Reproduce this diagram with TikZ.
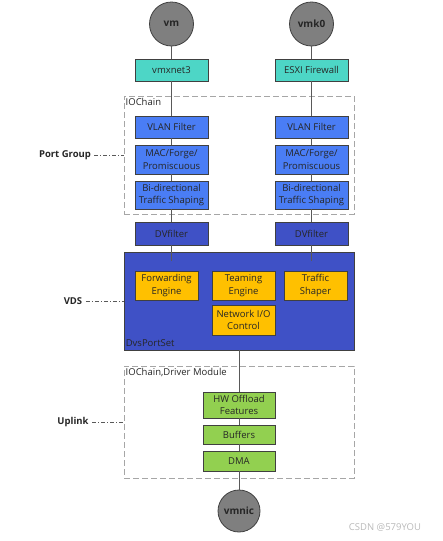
\documentclass[tikz,border=0pt]{standalone}
\usepackage{fontspec}
\setmainfont{Open Sans}
\definecolor{circfill}{HTML}{7F7F7F}
\definecolor{teal}{HTML}{4DD6C6}
\definecolor{lblue}{HTML}{4A7DF5}
\definecolor{dblue}{HTML}{3F51C6}
\definecolor{orng}{HTML}{FFC000}
\definecolor{grn}{HTML}{92D050}
\definecolor{boxline}{HTML}{404040}
\definecolor{txt}{HTML}{262626}
\definecolor{conn}{HTML}{595959}
\begin{document}
\begin{tikzpicture}[x=1pt, y=-1pt, font=\fontsize{9.5}{12.5}\selectfont,
  box/.style={draw=boxline, line width=0.8pt, text=txt, align=center, inner sep=1pt, minimum width=73pt},
  circ/.style={circle, draw=boxline, line width=0.8pt, fill=circfill, text=txt, minimum size=44pt, font=\fontsize{10}{12}\selectfont\bfseries},
  group/.style={draw=gray!70, dashed, dash pattern=on 6pt off 3pt, line width=1pt, minimum width=230pt},
  wire/.style={draw=conn, line width=0.8pt},
  side/.style={draw=conn, line width=0.7pt, dash pattern=on 4pt off 2pt on 1pt off 2pt},
  sidelabel/.style={text=txt, font=\fontsize{9.5}{12}\selectfont\bfseries}]
\useasboundingbox (0,0) rectangle (443,541);
% groups
\node[group, minimum height=118pt] (iochain) at (239,155) {};
\node[anchor=north west, inner sep=1pt, text=txt] at ([xshift=1pt,yshift=-2pt]iochain.north west) {IOChain};
\node[draw=boxline, line width=0.8pt, fill=dblue, minimum width=230pt, minimum height=98pt] (vds) at (239,301) {};
\node[anchor=south west, inner sep=1pt, text=txt] at ([xshift=1pt,yshift=3pt]vds.south west) {DvsPortSet};
\node[group, minimum height=112pt] (uplink) at (239,422) {};
\node[anchor=north west, inner sep=1pt, text=txt] at ([xshift=1pt,yshift=-2pt]uplink.north west) {IOChain,Driver Module};
% left column
\node[circ] (vm) at (171.5,24) {vm};
\node[box, fill=teal, minimum height=22pt] (vmx) at (171.5,70) {vmxnet3};
\node[box, fill=lblue, minimum height=22pt] (vlanL) at (171.5,127) {VLAN Filter};
\node[box, fill=lblue, minimum height=29pt] (macL) at (171.5,159.5) {MAC/Forge/\\Promiscuous};
\node[box, fill=lblue, minimum height=28pt] (bidiL) at (171.5,195) {Bi-directional\\Traffic Shaping};
\node[box, fill=dblue, minimum height=23pt] (dvL) at (171.5,233.5) {DVfilter};
\coordinate (stubL) at (171.5,261);
% right column
\node[circ] (vmk) at (311.5,24) {vmk0};
\node[box, fill=teal, minimum height=22pt] (esxi) at (311.5,70) {ESXI Firewall};
\node[box, fill=lblue, minimum height=22pt] (vlanR) at (311.5,127) {VLAN Filter};
\node[box, fill=lblue, minimum height=29pt] (macR) at (311.5,159.5) {MAC/Forge/\\Promiscuous};
\node[box, fill=lblue, minimum height=28pt] (bidiR) at (311.5,195) {Bi-directional\\Traffic Shaping};
\node[box, fill=dblue, minimum height=23pt] (dvR) at (311.5,233.5) {DVfilter};
\coordinate (stubR) at (311.5,261);
% VDS
\node[box, fill=orng, minimum width=63pt, minimum height=29pt] (fwd) at (166.5,285.5) {Forwarding\\Engine};
\node[box, fill=orng, minimum width=63pt, minimum height=29pt] (team) at (243.5,285.5) {Teaming\\Engine};
\node[box, fill=orng, minimum width=63pt, minimum height=29pt] (shaper) at (315.5,285.5) {Traffic\\Shaper};
\node[box, fill=orng, minimum width=63pt, minimum height=30pt] (nioc) at (243.5,320) {Network I/O\\Control};
% uplink
\node[box, fill=grn, minimum width=72pt, minimum height=26pt] (hw) at (239,405) {HW Offload\\Features};
\node[box, fill=grn, minimum width=72pt, minimum height=19pt] (buf) at (239,434.5) {Buffers};
\node[box, fill=grn, minimum width=72pt, minimum height=20pt] (dma) at (239,461) {DMA};
\node[circ, minimum size=42pt] (vmnic) at (239,511) {vmnic};
% connectors
\draw[wire] (vm) -- (vmx) -- (vlanL) -- (macL) -- (bidiL) -- (dvL) -- (stubL);
\draw[wire] (vmk) -- (esxi) -- (vlanR) -- (macR) -- (bidiR) -- (dvR) -- (stubR);
\draw[wire] (vds) -- (hw) -- (buf) -- (dma) -- (vmnic);
% side labels
\node[sidelabel] (pg) at (65,155) {Port Group};
\node[sidelabel] (vdslbl) at (73,301) {VDS};
\node[sidelabel] (uplbl) at (73,422) {Uplink};
\draw[side] (pg) -- (iochain);
\draw[side] (vdslbl) -- (vds);
\draw[side] (uplbl) -- (uplink);
\node[text=gray!55, font=\fontsize{9.5}{12}\selectfont] (mark) at (385,527) {CSDN @579YOU};
\end{tikzpicture}
\end{document}
